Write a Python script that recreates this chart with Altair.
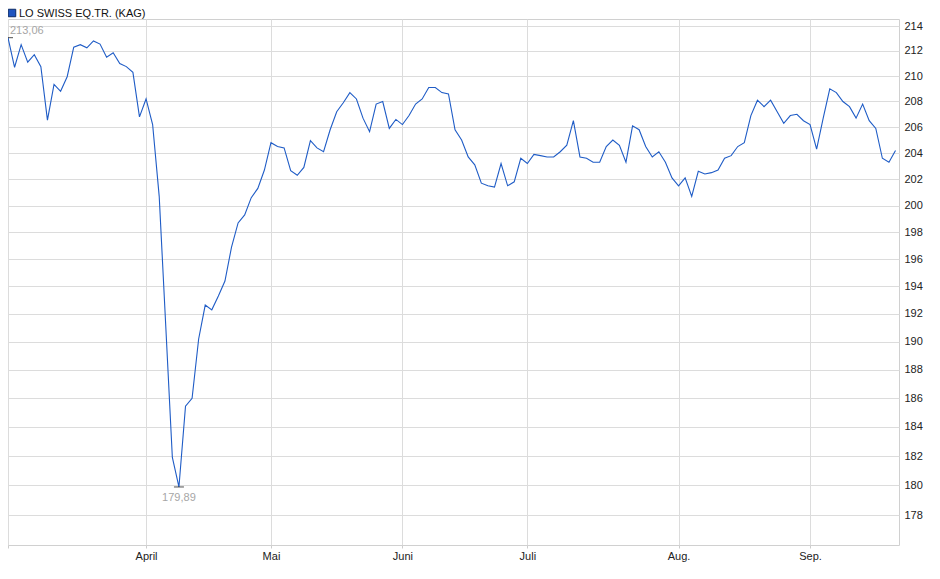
import altair as alt
import pandas as pd

series_name = "LO SWISS EQ.TR. (KAG)"

values = [
    213.06, 210.7, 212.5, 211.1, 211.7, 210.75, 206.55, 209.35, 208.8, 209.95,
    212.3, 212.5, 212.25, 212.8, 212.55, 211.5, 211.86, 211.0, 210.75, 210.3,
    206.8, 208.2, 206.2, 200.7, 191.1, 181.9, 179.89, 185.45, 186.0, 190.2,
    192.65, 192.3, 193.3, 194.4, 196.9, 198.7, 199.3, 200.6, 201.3, 202.7,
    204.8, 204.5, 204.4, 202.65, 202.3, 202.9, 204.95, 204.4, 204.1, 205.8,
    207.2, 207.9, 208.7, 208.2, 206.7, 205.65, 207.8, 208.0, 205.9, 206.6,
    206.2, 206.9, 207.8, 208.2, 209.1, 209.1, 208.7, 208.6, 205.8, 205.0,
    203.7, 203.1, 201.7, 201.5, 201.4, 203.2, 201.5, 201.8, 203.6, 203.2,
    203.9, 203.8, 203.7, 203.7, 204.1, 204.6, 206.5, 203.7, 203.6, 203.3,
    203.3, 204.5, 205.0, 204.6, 203.3, 206.1, 205.8, 204.5, 203.7, 204.1,
    203.3, 202.1, 201.5, 202.1, 200.7, 202.6, 202.4, 202.5, 202.7, 203.6,
    203.8, 204.5, 204.8, 206.9, 208.1, 207.6, 208.1, 207.2, 206.3, 206.9,
    207.0, 206.5, 206.2, 204.3, 206.7, 209.0, 208.7, 208.0, 207.6, 206.7,
    207.8, 206.5, 205.9, 203.6, 203.3, 204.2,
]

month_labels = ["April", "Mai", "Juni", "Juli", "Aug.", "Sep."]
month_index = [21, 40, 60, 79, 102, 122]
y_ticks = list(range(178, 215, 2))

df = pd.DataFrame({"i": list(range(len(values))), "v": values, "s": series_name})

imax = max(range(len(values)), key=lambda k: values[k])
imin = min(range(len(values)), key=lambda k: values[k])


def fmt(v):
    return f"{v:.2f}".replace(".", ",")


ext = pd.DataFrame({
    "i": [imax, imin],
    "v": [values[imax], values[imin]],
    "label": [fmt(values[imax]), fmt(values[imin])],
    "pos": ["max", "min"],
})

legend_df = pd.DataFrame({"s": [series_name]})

label_expr = ""
for idx, lab in zip(month_index, month_labels):
    label_expr += f"datum.value == {idx} ? '{lab}' : "
label_expr += "''"

FONT = "Liberation Sans"
x_scale = alt.Scale(domain=[0, 135.53], nice=False, zero=False)
y_scale = alt.Scale(type="log", domain=[176.0, 214.565], nice=False)

x_axis = alt.Axis(
    values=[0] + month_index, labelExpr=label_expr, title=None,
    grid=True, gridColor="#dcdcdc", gridWidth=1,
    ticks=True, tickSize=3, tickColor="#cccccc",
    domain=False, labelFont=FONT, labelFontSize=11, labelColor="#222222",
    labelPadding=2, labelFlush=False, labelOverlap=False,
)
y_axis = alt.Axis(
    orient="right", values=y_ticks, format="d", title=None,
    grid=True, gridColor="#dcdcdc", gridWidth=1,
    ticks=False, domain=False, labelFont=FONT, labelFontSize=11,
    labelColor="#222222", labelPadding=5,
)

base = alt.Chart(df).encode(
    x=alt.X("i:Q", scale=x_scale, axis=x_axis),
    y=alt.Y("v:Q", scale=y_scale, axis=y_axis),
)

line = base.mark_line(color="#1f5cc6", strokeWidth=1.1)

ext_base = alt.Chart(ext).encode(
    x=alt.X("i:Q", scale=x_scale),
    y=alt.Y("v:Q", scale=y_scale),
)
ticks = ext_base.mark_tick(orient="horizontal", color="#000000", size=10, thickness=1)

max_text = ext_base.transform_filter(alt.datum.pos == "max").mark_text(
    align="left", baseline="alphabetic", dx=2, dy=-4,
    color="#a6a6a6", font=FONT, fontSize=11,
).encode(text="label:N")

min_text = ext_base.transform_filter(alt.datum.pos == "min").mark_text(
    align="center", baseline="top", dy=5,
    color="#a6a6a6", font=FONT, fontSize=11,
).encode(text="label:N")

leg_square = alt.Chart(legend_df).mark_square(
    size=56, filled=True, fill="#1f55c0", stroke="#0b2a66", strokeWidth=1, opacity=1,
).encode(x=alt.value(4), y=alt.value(-6))

leg_text = alt.Chart(legend_df).mark_text(
    align="left", baseline="alphabetic", font=FONT, fontSize=11, color="#111111",
).encode(x=alt.value(11), y=alt.value(-2), text="s:N")

chart = alt.layer(line, ticks, max_text, min_text, leg_square, leg_text).properties(
    width=891, height=526,
    autosize=alt.AutoSizeParams(type="none"),
    padding={"left": 0, "top": 11, "right": 30, "bottom": 22},
    background="white",
).configure_view(stroke="#d0d0d0", strokeWidth=1)

chart.save("out.html", embed_options={"renderer": "svg", "actions": False})
